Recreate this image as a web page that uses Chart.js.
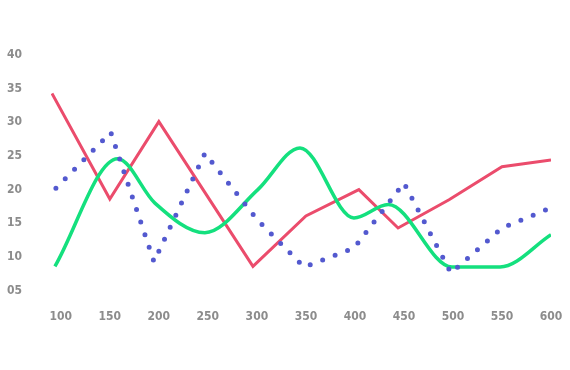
<!DOCTYPE html>
<html>
<head>
<meta charset="utf-8">
<script src="https://cdn.jsdelivr.net/npm/chart.js@4/dist/chart.umd.min.js"></script>
<style>
  body { margin: 0; background: #fff; }
  #wrap { width: 570px; height: 370px; }
</style>
</head>
<body>
<div id="wrap"><canvas id="chart" width="570" height="370"></canvas></div>
<script>
// tick labels
var xTicks = [100, 150, 200, 250, 300, 350, 400, 450, 500, 550, 600];
var yTicks = [5, 10, 15, 20, 25, 30, 35, 40];

// red series (straight)
var redX = [91, 150, 200, 296, 350, 404, 444, 496, 550, 600];
var redY = [34.3, 18.6, 30.1, 8.6, 16.1, 20.0, 14.3, 18.5, 23.4, 24.4];

// green series (smooth)
var greenX = [94, 158, 196, 247, 301, 344, 399, 434, 499, 548, 600];
var greenY = [8.6, 24.6, 18.0, 13.6, 20.0, 26.2, 15.8, 17.8, 8.5, 8.5, 13.3];

// blue series (dotted)
var blueX = [95, 151, 195, 247, 300, 348, 399, 450, 498, 550, 600];
var blueY = [20.2, 28.5, 9.3, 25.4, 15.6, 8.5, 11.3, 21.0, 7.6, 14.3, 17.3];

function pts(xs, ys) {
  return xs.map(function(x, i) { return {x: x, y: ys[i]}; });
}

var tickFont = {family: "'Liberation Sans Narrow', 'DejaVu Sans Condensed', sans-serif", weight: 'bold', size: 12};
var tickColor = '#8c8c8c';

new Chart(document.getElementById('chart'), {
  type: 'line',
  data: {
    datasets: [{
      label: 'blue',
      data: pts(blueX, blueY),
      borderColor: '#5359cf',
      borderWidth: 5,
      borderDash: [0, 13.3],
      borderCapStyle: 'round',
      pointRadius: 0,
      tension: 0,
      fill: false
    }, {
      label: 'green',
      data: pts(greenX, greenY),
      borderColor: '#14e07e',
      borderWidth: 3.5,
      cubicInterpolationMode: 'monotone',
      pointRadius: 0,
      fill: false
    }, {
      label: 'red',
      data: pts(redX, redY),
      borderColor: '#eb4c6c',
      borderWidth: 3,
      pointRadius: 0,
      tension: 0,
      fill: false
    }]
  },
  options: {
    responsive: false,
    animation: false,
    layout: { padding: { top: 55, right: 19, bottom: 27, left: 0 } },
    plugins: { legend: { display: false }, tooltip: { enabled: false } },
    scales: {
      x: {
        type: 'linear',
        min: 90,
        max: 600,
        grid: { display: false, drawTicks: false },
        border: { display: false },
        afterBuildTicks: function(axis) {
          axis.ticks = xTicks.map(function(v) { return {value: v}; });
        },
        afterFit: function(axis) { axis.paddingRight = 0; axis.paddingLeft = 0; },
        ticks: { font: tickFont, color: tickColor, padding: 19, maxRotation: 0, autoSkip: false }
      },
      y: {
        min: 5,
        max: 40,
        grid: { display: false, drawTicks: false },
        border: { display: false },
        afterBuildTicks: function(axis) {
          axis.ticks = yTicks.map(function(v) { return {value: v}; });
        },
        afterFit: function(axis) { axis.width = 51; },
        ticks: {
          font: tickFont, color: tickColor, padding: 29,
          callback: function(v) { return String(v).padStart(2, '0'); }
        }
      }
    }
  }
});
</script>
</body>
</html>
